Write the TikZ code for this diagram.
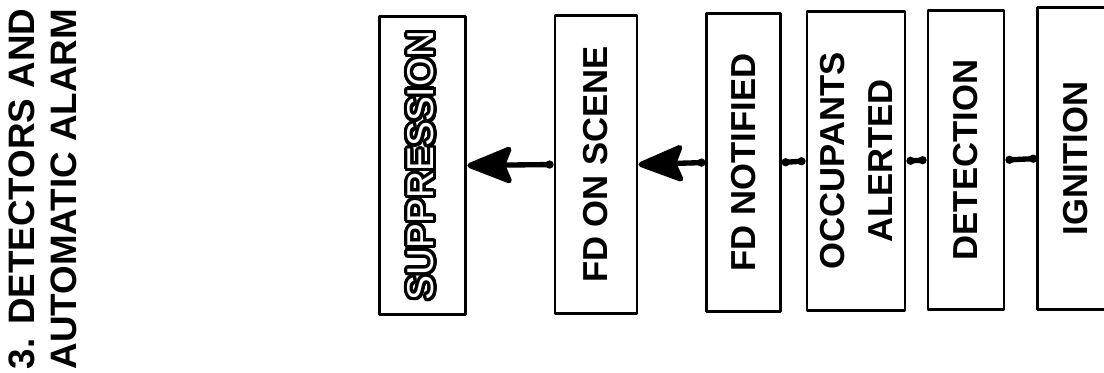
\documentclass[tikz,border=0pt]{standalone}
\usepackage{fontspec}
\setsansfont{Liberation Sans}
\usepackage{contour}
\contourlength{2.4pt}
\contournumber{32}
\usetikzlibrary{arrows.meta}

\begin{document}
\begin{tikzpicture}[x=0.75pt, y=-0.75pt, line join=round,
  every node/.style={font=\sffamily\bfseries\fontsize{26}{28}\selectfont},
  stage/.style={rotate=90, draw, line width=2.2pt, inner sep=0pt, minimum width=224pt},
  link/.style={line width=4pt, {Circle[length=6pt]}-{Circle[length=6pt]}},
  push/.style={line width=4pt, {Circle[length=6pt]}-{Stealth[length=38pt, width=30pt, inset=6pt, round]}}]
\useasboundingbox (0,0) rectangle (1104,372);
% heading, set sideways like the boxes
\node[rotate=90, align=left, font=\sffamily\bfseries\fontsize{27.6}{27.8}\selectfont] (title) at (43,189) {3. DETECTORS AND\\[4pt]AUTOMATIC ALARM};
% the chain of stages, read from right to left
\node[stage, minimum height=65pt, font=\sffamily\fontsize{28}{30}\selectfont, text=white] (sup) at (422.5,165.5) {\contour{black}{SUPPRESSION}};
\node[stage, minimum height=61.5pt] (fds) at (596,164.5) {FD ON SCENE};
\node[stage, minimum height=55pt] (fdn) at (743.5,162.5) {FD NOTIFIED};
\node[stage, minimum height=73.5pt, align=center] (occ) at (856,161) {OCCUPANTS\\[8pt]ALERTED};
\node[stage, minimum height=57pt] (det) at (966,160) {DETECTION};
\node[stage, draw=none, minimum height=56pt] (ign) at (1076,158.5) {IGNITION};
\draw[line width=2.2pt] (ign.south east) -- (ign.north east) -- (ign.north west) -- (ign.south west);
% connectors
\draw[link] (det.south) -- (ign.north);
\draw[link] (occ.south) -- (det.north);
\draw[link] (fdn.south) -- (occ.north);
\draw[push] (fdn.north) -- (fds.south);
\draw[push] (fds.north) -- (sup.south);
\end{tikzpicture}
\end{document}
